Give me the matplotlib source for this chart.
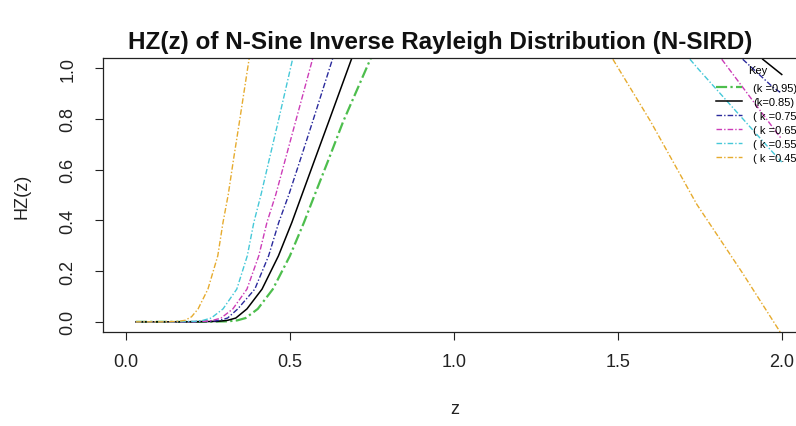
import numpy as np
import matplotlib
matplotlib.use('Agg')
import matplotlib.pyplot as plt

nan = np.nan

# values; nan marks the part that runs above the plot
z_095 = [0.03, 0.22, 0.31, 0.34, 0.365, 0.402, 0.448, 0.50, 0.543, 0.576, 0.618, 0.662, 0.747]
hz_095 = [0.0, 0.0, 0.002, 0.006, 0.015, 0.051, 0.129, 0.26, 0.392, 0.502, 0.64, 0.788, 1.04]

z_085 = [0.03, 0.20, 0.28, 0.31, 0.335, 0.369, 0.415, 0.465, 0.506, 0.537, 0.576, 0.618, 0.689,
         nan, 1.942, 2.0]
hz_085 = [0.0, 0.0, 0.002, 0.006, 0.015, 0.051, 0.129, 0.26, 0.392, 0.502, 0.64, 0.788, 1.04,
          nan, 1.035, 0.975]

z_075 = [0.03, 0.18, 0.26, 0.285, 0.31, 0.341, 0.393, 0.435, 0.466, 0.497, 0.532, 0.569, 0.631,
         nan, 1.881, 1.973, 2.0]
hz_075 = [0.0, 0.0, 0.002, 0.006, 0.015, 0.051, 0.129, 0.26, 0.392, 0.502, 0.64, 0.788, 1.04,
          nan, 1.035, 0.925, 0.90]

z_065 = [0.03, 0.16, 0.24, 0.265, 0.29, 0.326, 0.369, 0.405, 0.430, 0.457, 0.486, 0.517, 0.570,
         nan, 1.817, 1.985, 2.0]
hz_065 = [0.0, 0.0, 0.002, 0.006, 0.015, 0.051, 0.129, 0.26, 0.392, 0.502, 0.64, 0.788, 1.04,
          nan, 1.035, 0.745, 0.72]

z_055 = [0.03, 0.14, 0.21, 0.235, 0.26, 0.296, 0.338, 0.370, 0.390, 0.412, 0.437, 0.464, 0.509,
         nan, 1.72, 1.75, 1.979, 2.0]
hz_055 = [0.0, 0.0, 0.002, 0.006, 0.015, 0.051, 0.129, 0.26, 0.392, 0.502, 0.64, 0.788, 1.04,
          nan, 1.035, 0.99, 0.659, 0.63]

z_045 = [0.03, 0.12, 0.16, 0.18, 0.20, 0.22, 0.25, 0.28, 0.296, 0.312, 0.328, 0.346, 0.376,
         nan, 1.485, 1.60, 1.741, 1.88, 2.0]
hz_045 = [0.0, 0.0, 0.002, 0.006, 0.02, 0.051, 0.129, 0.26, 0.392, 0.502, 0.64, 0.788, 1.04,
          nan, 1.035, 0.79, 0.463, 0.193, -0.05]

series = [
    (z_095, hz_095, "(k =0.95)", "#4dbe4d", (0, (5, 1.5, 1, 1.5)), 1.6),
    (z_085, hz_085, "(k=0.85)", "black", "-", 1.1),
    (z_075, hz_075, "( k =0.75)", "#2a2a9c", (0, (4, 1.5, 1, 1.5)), 1.0),
    (z_065, hz_065, "( k =0.65)", "#cc3cb8", (0, (4, 1.5, 1, 1.5)), 1.0),
    (z_055, hz_055, "( k =0.55)", "#45c8d8", (0, (4, 1.5, 1, 1.5)), 1.0),
    (z_045, hz_045, "( k =0.45)", "#e6ab2e", (0, (4, 1.5, 1, 1.5)), 1.0),
]

plt.rcParams['font.family'] = ['Liberation Sans', 'DejaVu Sans']

fig = plt.figure(figsize=(7.96, 4.27), dpi=100)
# axes run past the right edge, as in the cropped reference
ax = fig.add_axes([103 / 796, 1 - 333 / 427, 712 / 796, 274 / 427])

for z, hz, lab, col, ls, lw in series:
    ax.plot(z, hz, color=col, linestyle=ls, linewidth=lw, label=lab)

ax.set_xlim(-0.07, -0.07 + 712 / 327.9)
ax.set_ylim(-0.04, 1.04)
ax.set_xticks([0.0, 0.5, 1.0, 1.5, 2.0])
ax.set_xticklabels(["0.0", "0.5", "1.0", "1.5", "2.0"])
ax.set_yticks([0.0, 0.2, 0.4, 0.6, 0.8, 1.0])
ax.set_yticklabels(["0.0", "0.2", "0.4", "0.6", "0.8", "1.0"],
                   rotation=90, va='center')
ax.tick_params(axis='both', direction='out', length=6, width=0.8,
               labelsize=13, colors='#222222')
ax.tick_params(axis='x', pad=9)
ax.tick_params(axis='y', pad=13)
for sp in ax.spines.values():
    sp.set_linewidth(0.9)
    sp.set_color('#222222')
# the right side of the box lies outside the cropped picture
ax.spines['right'].set_visible(False)

leg = ax.legend(loc='upper left', bbox_to_anchor=(606 / 712, 1.0),
                borderaxespad=0, title='Key', fontsize=8, title_fontsize=8,
                handlelength=2.4, handletextpad=0.95, labelspacing=0.36,
                borderpad=0.6, fancybox=False, framealpha=0)
# a bit more room between "Key" and the first row
leg._legend_box.sep = 0.36 * 8 + 3.2
leg.get_frame().set_edgecolor('black')
leg.get_frame().set_linewidth(0.9)

fig.text(440 / 796, 1 - 42 / 427,
         "HZ(z) of N-Sine Inverse Rayleigh Distribution (N-SIRD)",
         ha='center', va='center', fontsize=17.5, fontweight='bold', color='#111111')
fig.text(455 / 796, 1 - 410 / 427, "z", ha='center', va='center',
         fontsize=13, color='#222222')
fig.text(22 / 796, 1 - 196 / 427, "HZ(z)", ha='center', va='center',
         rotation=90, fontsize=13, color='#222222')

fig.savefig("out.png", dpi=100)
